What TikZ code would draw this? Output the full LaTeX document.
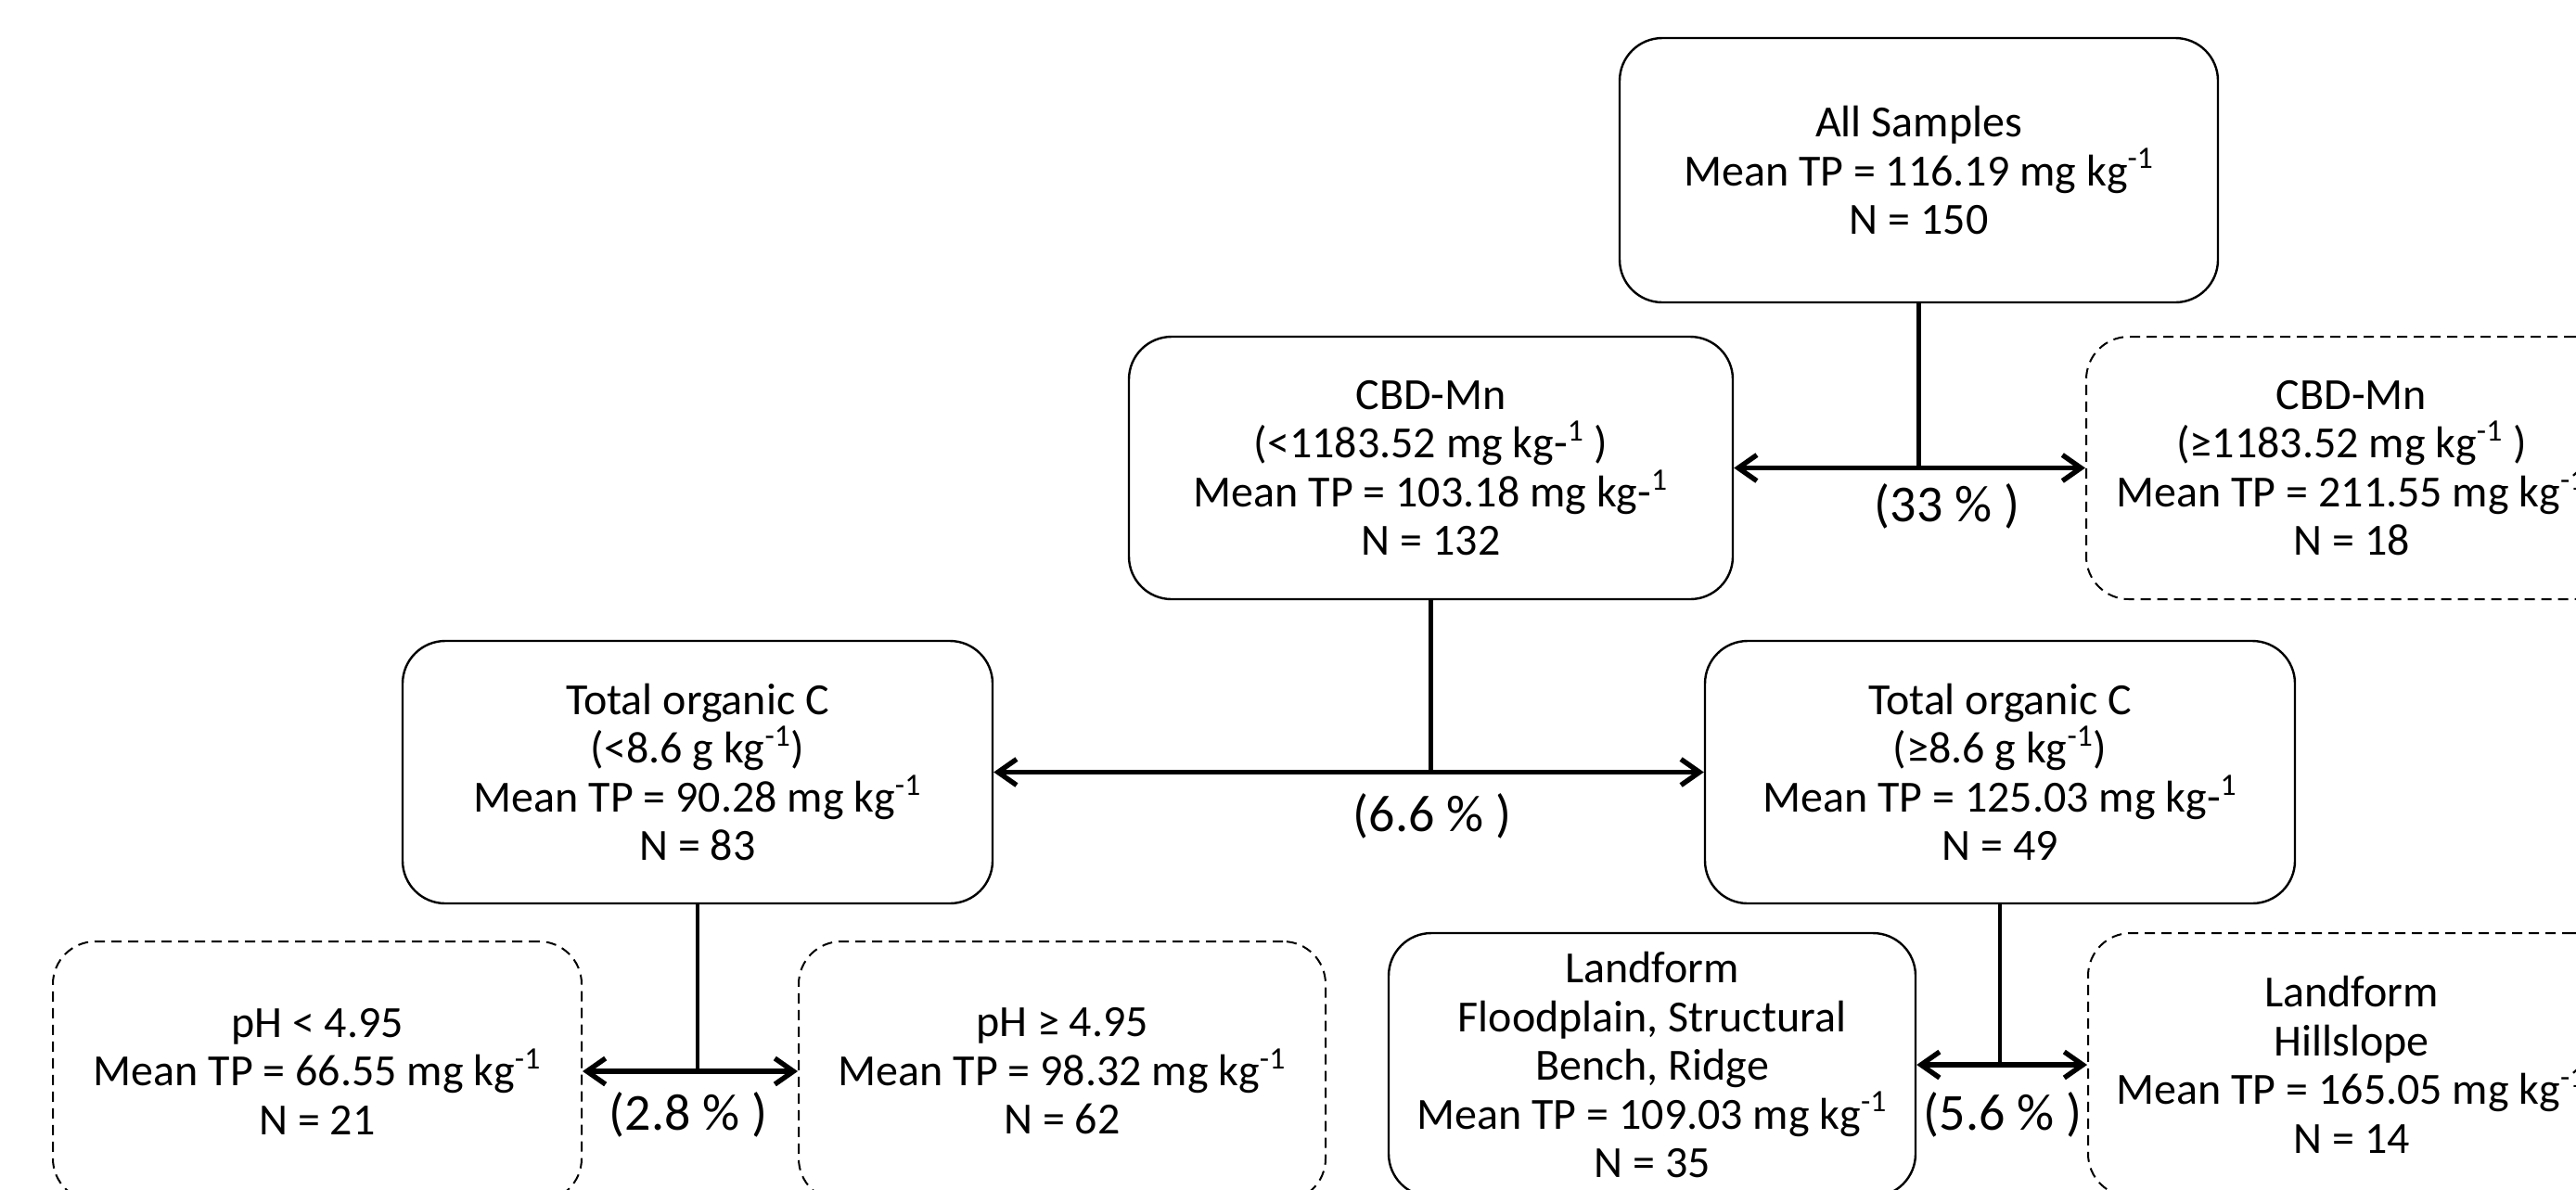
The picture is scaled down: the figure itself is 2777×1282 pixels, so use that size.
\documentclass[tikz,border=0pt]{standalone}
\usepackage{fontspec}
\setmainfont{Carlito}
\usetikzlibrary{arrows.meta}
\begin{document}
\begin{tikzpicture}[x=0.5pt,y=-0.5pt,
  sbox/.style={draw, line width=1.2pt, rounded corners=23pt, align=center, inner sep=0pt, font=\fontsize{24}{26.25}\selectfont},
  dbox/.style={sbox, line width=1pt, dash pattern=on 5.5pt off 3.5pt},
  conn/.style={line width=2.3pt, line cap=rect},
  arr/.style={line width=2.7pt, -{Straight Barb[length=10pt,width=14pt]}},
  pct/.style={font=\fontsize{28}{30}\selectfont, inner sep=0pt}]
\useasboundingbox (0,0) rectangle (2777,1282);
\fill[white] (0,0) rectangle (2777,1282);
\clip (0,0) rectangle (2777,1282);

\node[sbox, minimum width=322.5pt, minimum height=142.5pt] (all) at (2068.5,183.5)
  {All Samples\\Mean TP = 116.19 mg kg\textsuperscript{-1}\\N = 150};

\node[sbox, minimum width=325.5pt, minimum height=141.5pt] (cbdL) at (1542.5,504.5)
  {CBD-Mn\\(<1183.52 mg kg-\textsuperscript{1} )\\Mean TP = 103.18 mg kg-\textsuperscript{1}\\N = 132};
\node[dbox, minimum width=286pt, minimum height=141.5pt] (cbdR) at (2535,504.5)
  {CBD-Mn\\(≥1183.52 mg kg\textsuperscript{-1} )\\Mean TP = 211.55 mg kg\textsuperscript{-1}\\N = 18};

\node[sbox, minimum width=318pt, minimum height=141.5pt] (tocL) at (752,832.5)
  {Total organic C\\(<8.6 g kg\textsuperscript{-1})\\Mean TP = 90.28 mg kg\textsuperscript{-1}\\N = 83};
\node[sbox, minimum width=318pt, minimum height=141.5pt] (tocR) at (2156,832.5)
  {Total organic C\\(≥8.6 g kg\textsuperscript{-1})\\Mean TP = 125.03 mg kg-\textsuperscript{1}\\N = 49};

\node[dbox, minimum width=285pt, minimum height=140pt] (phL) at (342,1155)
  {pH < 4.95\\Mean TP = 66.55 mg kg\textsuperscript{-1}\\N = 21};
\node[dbox, minimum width=284pt, minimum height=140pt] (phR) at (1145,1155)
  {pH ≥ 4.95\\Mean TP = 98.32 mg kg\textsuperscript{-1}\\N = 62};

\node[sbox, minimum width=284pt, minimum height=142pt] (lfL) at (1781,1148)
  {Landform\\Floodplain, Structural\\Bench, Ridge\\Mean TP = 109.03 mg kg\textsuperscript{-1}\\N = 35};
\node[dbox, minimum width=284pt, minimum height=142pt] (lfR) at (2535,1148)
  {Landform\\Hillslope\\Mean TP = 165.05 mg kg\textsuperscript{-1}\\N = 14};

\coordinate (j1) at (all.south |- cbdL.east);
\coordinate (j2) at (cbdL.south |- tocL.east);
\coordinate (j3) at (tocL.south |- phL.east);
\coordinate (j4) at (tocR.south |- lfL.east);

\draw[conn] (all.south) -- (j1);
\draw[arr] (j1) -- (cbdL.east);
\draw[arr] (j1) -- (cbdR.west);

\draw[conn] (cbdL.south) -- (j2);
\draw[arr] (j2) -- (tocL.east);
\draw[arr] (j2) -- (tocR.west);

\draw[conn] (tocL.south) -- (j3);
\draw[arr] (j3) -- (phL.east);
\draw[arr] (j3) -- (phR.west);

\draw[conn] (tocR.south) -- (j4);
\draw[arr] (j4) -- (lfL.east);
\draw[arr] (j4) -- (lfR.west);

\node[pct] (p1) at (2099,546) {(33 \% )};
\node[pct] (p2) at (1544,880) {(6.6 \% )};
\node[pct] (p3) at (742,1202) {(2.8 \% )};
\node[pct] (p4) at (2159,1202) {(5.6 \% )};
\end{tikzpicture}
\end{document}
